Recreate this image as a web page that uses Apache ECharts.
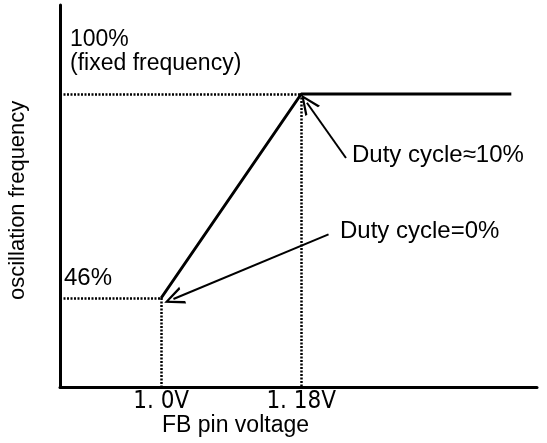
<!DOCTYPE html>
<html>
<head>
<meta charset="utf-8">
<script src="https://cdn.jsdelivr.net/npm/echarts@6/dist/echarts.min.js"></script>
<style>
  html, body { margin: 0; padding: 0; background: #fff; }
  #main { width: 547px; height: 443px; }
</style>
</head>
<body>
<div id="main"></div>
<script>
// FB pin voltage (V) vs oscillation frequency (% of fixed frequency)
var voltage = [1.0, 1.18, 1.45];
var freqPct = [46, 100, 100];
var tickVoltages = [1.0, 1.18];
var tickLabels = ["1. 0V", "1. 18V"];
var xMin = 0.87, xMax = 1.483;
var yMin = 22.44, yMax = 123.56;
// annotation arrows: [tail, tip] in data units
var arrowTen = [[1.2375, 83.06], [1.1873, 97.69]];
var arrowZero = [[1.2151, 62.86], [1.0158, 45.74]];

var FONT = "'Liberation Sans', Arial, sans-serif";
var chevron = "path://M5,0 L10,10 L8.6,10 L5,2.6 L1.4,10 L0,10 Z";

var myChart = echarts.init(document.getElementById("main"));

function dotted(a, b) {
  return [{ coord: a }, { coord: b }];
}

var option = {
  animation: false,
  grid: { left: 60, right: 10, top: 5, bottom: 56 },
  xAxis: {
    type: "value",
    min: xMin,
    max: xMax,
    interval: 0.01,
    splitLine: { show: false },
    axisTick: { show: false },
    axisLine: { lineStyle: { color: "#000", width: 3 } },
    axisLabel: {
      color: "#000",
      fontFamily: "'DejaVu Sans Condensed', 'Liberation Sans Narrow', sans-serif",
      fontSize: 24,
      margin: 3,
      formatter: function (v) {
        for (var i = 0; i < tickVoltages.length; i++) {
          if (Math.abs(v - tickVoltages[i]) < 1e-6) return tickLabels[i];
        }
        return "";
      }
    }
  },
  yAxis: {
    type: "value",
    min: yMin,
    max: yMax,
    splitLine: { show: false },
    axisTick: { show: false },
    axisLabel: { show: false },
    axisLine: { lineStyle: { color: "#000", width: 3 } }
  },
  graphic: [
    { type: "text", left: 70, top: 28, style: { text: "100%", font: "23px " + FONT, fill: "#000" } },
    { type: "text", left: 70, top: 52, style: { text: "(fixed frequency)", font: "23px " + FONT, fill: "#000" } },
    { type: "text", left: 64, top: 266, style: { text: "46%", font: "24px " + FONT, fill: "#000" } },
    { type: "text", left: 352, top: 143, style: { text: "Duty cycle\u224810%", font: "24px " + FONT, fill: "#000" } },
    { type: "text", left: 340, top: 219, style: { text: "Duty cycle=0%", font: "24px " + FONT, fill: "#000" } },
    { type: "text", left: 162, top: 414, style: { text: "FB pin voltage", font: "23px " + FONT, fill: "#000" } },
    {
      type: "text", x: 7, y: 300, rotation: Math.PI / 2,
      style: { text: "oscillation frequency", font: "22px " + FONT, fill: "#000" }
    }
  ],
  series: [
    {
      type: "line",
      data: voltage.map(function (v, i) { return [v, freqPct[i]]; }),
      symbol: "none",
      lineStyle: { color: "#000", width: 3 },
      markLine: {
        silent: true,
        symbol: "none",
        label: { show: false },
        lineStyle: { color: "#000", width: 2.5, type: [2, 1.5] },
        data: [
          dotted([xMin, freqPct[0]], [voltage[0], freqPct[0]]),
          dotted([voltage[0], freqPct[0]], [voltage[0], yMin]),
          dotted([xMin, freqPct[1]], [voltage[1], freqPct[1]]),
          dotted([voltage[1], freqPct[1]], [voltage[1], yMin])
        ]
      }
    },
    {
      type: "line",
      data: [],
      markLine: {
        silent: true,
        symbol: ["none", chevron],
        symbolSize: [18, 20],
        label: { show: false },
        lineStyle: { color: "#000", width: 2, type: "solid" },
        itemStyle: { color: "#000" },
        data: [
          [{ coord: arrowTen[0] }, { coord: arrowTen[1] }],
          [{ coord: arrowZero[0] }, { coord: arrowZero[1] }]
        ]
      }
    }
  ]
};
myChart.setOption(option);
</script>
</body>
</html>
